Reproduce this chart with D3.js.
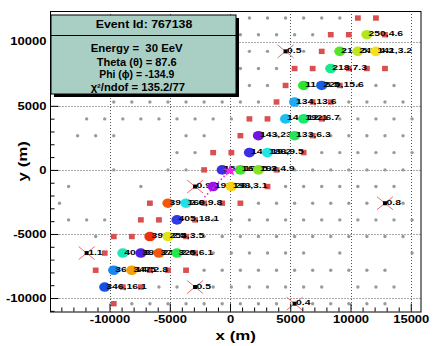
<!DOCTYPE html>
<html>
<head>
<meta charset="utf-8">
<script src="https://cdn.jsdelivr.net/npm/d3@7"></script>
<style>
body { margin: 0; background: #fff; }
svg text { font-family: "Liberation Sans", Arial, sans-serif; font-weight: bold; }
</style>
</head>
<body>
<div id="chart"></div>
<script>
// event summary
const eventId = 767138;
const energyEeV = 30;
const thetaDeg = 87.6;
const phiDeg = -134.9;
const chi2 = "135.2";
const ndof = 77;
const core = [0, 0];
const axisLength = 3000;

const xTicks = [-10000, -5000, 0, 5000, 10000, 15000];
const yTicks = [-10000, -5000, 0, 5000, 10000];

// array rows (y) and the x of every plain (grey) station in each row
const rowY = [11850, 10550, 9250, 7910, 6590, 5300, 3980, 2670, 1350, 0,
              -1300, -2600, -3900, -5200, -6490, -7830, -9140, -10440];
const grayX = [
  [1610, 3110, 4610, 6110, 7610, 9110],
  [860, 2360, 3860, 5360, 6860],
  [1610, 3110, 6110],
  [860, 2360, 3860],
  [1610, 3110, 10610, 12110, 13610],
  [-9650, -8150, -6650, -5150, -3650, -2150, -650, 860, 2360, 9860, 11360, 12860, 14360],
  [-11900, -10400, -8900, -7400, -5900, -4400, -2900, -1400, 110, 9110, 10610, 12110, 13610, 15110],
  [-12650, -11150, -9650, -3650, -2150, 3860, 8360, 9860, 11360, 12860, 14360],
  [-4400, -2900, 4610, 7610, 9110, 10610, 12110, 13610, 15110],
  [-9650, -5150, -3650, 5360, 6860, 8360, 9860, 11360, 12860, 14360],
  [-13400, -7400, 1610, 4610, 6110, 7610, 9110, 10610, 12110, 13610],
  [-14150, 2360, 3860, 5360, 6860, 8360, 9860, 11360, 14360],
  [-13400, -11900, -10400, -1400, 110, 1610, 3110, 4610, 6110, 7610, 9110, 10610, 12110, 13610, 15110],
  [-11150, -2150, -650, 860, 2360, 3860, 5360, 6860, 8360, 9860, 11360, 12860, 14360],
  [-1400, 110, 1610, 3110, 4610, 6110, 9110, 15110],
  [-2150, -650, 860, 2360, 3860, 5360, 6860, 8360, 9860, 11360, 12860],
  [-5900, -4400, -1400, 110, 1610, 3110, 4610, 6110, 7610, 10610, 12110, 13610],
  [-8150, -6650, -5150, -3650, -2150, -650, 860, 2360, 3860, 6860, 8360, 9860, 11360, 12860]
];

// silent stations (red squares)
const silentX = [10610, 12110, 8360, 9860, 12860, 7610, 5360, 6860, 9860, 11360, 12860,
                 4610, 9110, 3860, 6860, 8360, 1610, 3110, 7610, 860, 6860, -1400, 110, 6110,
                 -2150, 3860, 3110, -6650, -2150, -650, 860, -7400, -5900, -2900,
                 -9650, -8150, -3650, -10400, -2900, -11150, -6650, -5150, -3650, -8900, -7400, -9650];
const silentY = [11850, 11850, 10550, 10550, 10550, 9250, 7910, 7910, 7910, 7910, 7910,
                 6590, 6590, 5300, 5300, 5300, 3980, 3980, 3980, 2670, 2670, 1350, 1350, 1350,
                 0, 0, -1300, -2600, -2600, -2600, -2600, -3900, -3900, -3900,
                 -5200, -5200, -5200, -6490, -6490, -7830, -7830, -7830, -7830, -9140, -9140, -10440];

// rejected stations (black dot with red cross)
const rejX = [4610, -2900, 12860, -11900, -2900, 5360];
const rejY = [9250, -1300, -2600, -6490, -9140, -10440];
const rejLabel = ["0.5", "0.9", "0.8", "1.1", "0.5", "0.4"];

// triggered stations: signal, time
const hitX = [11360, 9110, 10610, 12110, 8360, 6110, 7610, 5360, 4610, 6110, 2360, 5360, 1610, 3110,
              -650, 860, 2360, -1400, 110, -5150, -3650, -4400, -6650, -5150,
              -8900, -7400, -5900, -4400, -9650, -8150, -10400];
const hitY = [10550, 9250, 9250, 9250, 7910, 6590, 6590, 5300, 3980, 3980, 2670, 2670, 1350, 1350,
              0, 0, 0, -1300, -1300, -2600, -2600, -3900, -5200, -5200,
              -6490, -6490, -6490, -6490, -7830, -7830, -9140];
const hitSignal = [250, 214, 249, 141, 218, 112, 220, 134, 142, 192, 143, 133, 140, 188,
                   152, 167, 192, 197, 198, 396, 160, 405, 390, 254,
                   402, 396, 375, 325, 364, 347, 346];
const hitTime = [4.6, 5.2, 4.2, 3.2, 7.3, 5.5, 15.6, 13.6, 12.1, 6.7, 23.6, 6.3, 19.2, 9.5,
                 19.0, 5.3, 4.9, 26.0, 3.1, 2.6, 9.8, 18.1, 2.5, 3.5,
                 8.3, 21.0, 2.6, 6.1, 14.5, 2.8, 16.1];

const W = 438, H = 346;
const svg = d3.select("#chart").append("svg")
  .attr("width", W).attr("height", H)
  .style("background", "#fff");

const x = d3.scaleLinear().domain([-14900, 15850]).range([50.5, 421]);
const y = d3.scaleLinear().domain([-11050, 12400]).range([311.5, 11]);
const pLeft = x.range()[0], pRight = x.range()[1], pTop = y.range()[1], pBottom = y.range()[0];

const timeColor = d3.scaleLog()
  .domain([2.5, 2.8, 3.2, 4.6, 5.5, 7.3, 9.6, 13.6, 16, 22, 26])
  .range(["#f0320a", "#f5a00a", "#f5e114", "#b4e61e", "#28e628", "#1ee68c",
          "#1ee6e6", "#1eaaf5", "#1450e6", "#5a14e6", "#9614e6"])
  .clamp(true);

// widen text: the picture is stretched sideways
function widen(sel, k) {
  sel.each(function() {
    const w = this.getComputedTextLength();
    this.setAttribute("textLength", w * k);
    this.setAttribute("lengthAdjust", "spacingAndGlyphs");
  });
}
const K = 1.3;

// grid
const grid = svg.append("g").attr("stroke", "#555").attr("stroke-dasharray", "1,2").attr("stroke-width", 1);
xTicks.forEach(t => {
  const px = Math.round(x(t)) + 0.5;
  grid.append("line").attr("x1", px).attr("x2", px).attr("y1", pTop).attr("y2", pBottom);
});
yTicks.forEach(t => {
  const py = Math.round(y(t)) + 0.5;
  grid.append("line").attr("x1", pLeft).attr("x2", pRight).attr("y1", py).attr("y2", py);
});

const plot = svg.append("g");

// grey stations
const grayPts = [];
grayX.forEach((row, i) => row.forEach(v => grayPts.push([v, rowY[i]])));
plot.selectAll(".st").data(grayPts).enter().append("circle")
  .attr("class", "st")
  .attr("cx", d => x(d[0])).attr("cy", d => y(d[1]))
  .attr("r", 1.7).attr("fill", "#9a9a9a");

// silent stations
const silent = silentX.map((v, i) => [v, silentY[i]]);
plot.selectAll(".silent").data(silent).enter().append("rect")
  .attr("class", "silent")
  .attr("x", d => x(d[0]) - 2.9).attr("y", d => y(d[1]) - 2.7)
  .attr("width", 5.8).attr("height", 5.4)
  .attr("fill", "#d85050");

// rejected stations
rejX.forEach((v, i) => {
  const cx = x(v), cy = y(rejY[i]);
  const g = plot.append("g");
  g.append("line").attr("x1", cx - 8).attr("y1", cy - 6.5).attr("x2", cx + 8).attr("y2", cy + 6.5)
    .attr("stroke", "#f06a6a").attr("stroke-width", 1);
  g.append("line").attr("x1", cx - 8).attr("y1", cy + 6.5).attr("x2", cx + 8).attr("y2", cy - 6.5)
    .attr("stroke", "#f06a6a").attr("stroke-width", 1);
  g.append("rect").attr("x", cx - 2).attr("y", cy - 2).attr("width", 4).attr("height", 4).attr("fill", "#000");
  g.append("text").attr("x", cx + 1.5).attr("y", cy + 1.8)
    .attr("font-size", 8).attr("fill", "#000").text(rejLabel[i]).call(widen, K);
});

// triggered stations, drawn left to right so later circles cover earlier labels
const hits = hitX.map((v, i) => ({x: v, y: hitY[i], s: hitSignal[i], t: hitTime[i]}))
  .sort((a, b) => a.x - b.x);
hits.forEach(d => {
  const cx = x(d.x), cy = y(d.y);
  plot.append("ellipse").attr("cx", cx).attr("cy", cy).attr("rx", 5.6).attr("ry", 4.8)
    .attr("fill", timeColor(d.t));
  plot.append("text").attr("x", cx + 1.5).attr("y", cy + 1.6)
    .attr("font-size", 8).attr("fill", "#000")
    .text(`${d.s},${d.t}`).call(widen, K);
});

// shower axis and core
const phi = phiDeg * Math.PI / 180;
plot.append("line")
  .attr("x1", x(core[0])).attr("y1", y(core[1]))
  .attr("x2", x(core[0] + axisLength * Math.cos(phi)))
  .attr("y2", y(core[1] + axisLength * Math.sin(phi)))
  .attr("stroke", "#ee22ee").attr("stroke-width", 1.6).attr("stroke-dasharray", "1.5,2.5");
plot.append("path")
  .attr("d", d3.symbol().type(d3.symbolStar).size(40)())
  .attr("transform", `translate(${x(core[0])},${y(core[1]) + 0.8}) scale(1.25,1)`)
  .attr("fill", "#ee22ee");

// frame
svg.append("rect").attr("x", pLeft).attr("y", pTop + 0.5)
  .attr("width", pRight - pLeft).attr("height", pBottom - pTop)
  .attr("fill", "none").attr("stroke", "#000").attr("stroke-width", 1);

// axes (ticks inside the frame)
const xMinor = d3.range(-14000, 15001, 1000).filter(v => !xTicks.includes(v));
const yMinor = d3.range(-11000, 12001, 1000).filter(v => !yTicks.includes(v));

function styleAxis(g) {
  g.select(".domain").remove();
  g.attr("font-family", null).attr("font-size", null);
  g.selectAll(".tick line").attr("stroke", "#000");
  g.selectAll(".tick text").attr("fill", "#000").attr("font-size", 10);
}
const gx = svg.append("g").attr("transform", `translate(0,${pBottom})`)
  .call(d3.axisBottom(x).tickValues(xTicks).tickSize(-8).tickPadding(4.5).tickFormat(d => String(d)))
  .call(styleAxis);
gx.selectAll(".tick text").call(widen, K);
svg.append("g").attr("transform", `translate(0,${pBottom})`)
  .call(d3.axisBottom(x).tickValues(xMinor).tickSize(-4).tickFormat(""))
  .call(styleAxis);
const gy = svg.append("g").attr("transform", `translate(${pLeft},0)`)
  .call(d3.axisLeft(y).tickValues(yTicks).tickSize(-8).tickPadding(4).tickFormat(d => String(d)))
  .call(styleAxis);
gy.selectAll(".tick text").call(widen, K);
svg.append("g").attr("transform", `translate(${pLeft},0)`)
  .call(d3.axisLeft(y).tickValues(yMinor).tickSize(-4).tickFormat(""))
  .call(styleAxis);

// axis titles
svg.append("text").attr("x", (pLeft + pRight) / 2).attr("y", 339.5)
  .attr("text-anchor", "middle").attr("font-size", 13).text("x (m)").call(widen, K);
svg.append("text").attr("transform", `translate(26.5,${(pTop + pBottom) / 2}) rotate(-90)`)
  .attr("text-anchor", "middle").attr("font-size", 13).text("y (m)").call(widen, K);

// stats box
const box = {x: 51, y: 15, w: 185, h: 79};
svg.append("rect").attr("x", box.x + 3).attr("y", box.y + 3).attr("width", box.w).attr("height", box.h).attr("fill", "#000");
svg.append("rect").attr("x", box.x).attr("y", box.y).attr("width", box.w).attr("height", box.h)
  .attr("fill", "#a9cfc5").attr("stroke", "#000").attr("stroke-width", 1);
svg.append("line").attr("x1", box.x).attr("x2", box.x + box.w).attr("y1", 35.5).attr("y2", 35.5)
  .attr("stroke", "#000").attr("stroke-width", 1);

const statText = [
  {t: `Event Id: ${eventId}`, cx: 144, y: 28.3, w: 96.6},
  {t: `Energy =  ${energyEeV} EeV`, cx: 136.7, y: 52.3, w: 92},
  {t: `Theta (θ) = ${thetaDeg}`, cx: 136.7, y: 65.7, w: 80},
  {t: `Phi (ϕ) = ${phiDeg}`, cx: 136.8, y: 78.3, w: 75},
  {t: `χ²/ndof = ${chi2}/${ndof}`, cx: 137.8, y: 90.7, w: 94.3}
];
statText.forEach(s => {
  svg.append("text").attr("x", s.cx).attr("y", s.y).attr("text-anchor", "middle")
    .attr("font-size", 10).style("white-space", "pre")
    .attr("textLength", s.w).attr("lengthAdjust", "spacingAndGlyphs")
    .text(s.t);
});
</script>
</body>
</html>
